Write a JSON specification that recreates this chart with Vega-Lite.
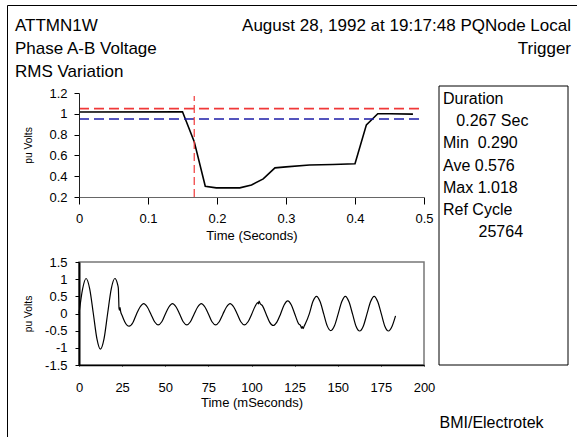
{
  "$schema": "https://vega.github.io/schema/vega-lite/v6.json",
  "width": 570,
  "height": 432,
  "autosize": {"type": "none"},
  "padding": {"left": 7, "top": 5, "right": 0, "bottom": 0},
  "background": "white",
  "config": {
    "font": "Liberation Sans, Arial, sans-serif",
    "view": {"stroke": null},
    "axis": {
      "grid": false,
      "labelFont": "Liberation Sans, Arial, sans-serif",
      "labelFontSize": 13,
      "labelColor": "#000",
      "titleFont": "Liberation Sans, Arial, sans-serif",
      "titleFontSize": 13,
      "titleFontWeight": "normal",
      "titleColor": "#000",
      "tickColor": "#000",
      "domainColor": "#000",
      "labelFlush": false,
      "labelOverlap": false
    },
    "text": {"font": "Liberation Sans, Arial, sans-serif", "color": "#000"}
  },
  "resolve": {
    "scale": {"x": "independent", "y": "independent", "color": "independent"},
    "axis": {"x": "independent", "y": "independent"}
  },
  "layer": [
    {
      "data": {"values": [{"panel": "page"}]},
      "mark": {"type": "point", "opacity": 0},
      "encoding": {
        "x": {"datum": 0, "type": "quantitative", "scale": {"domain": [0, 1], "nice": false, "zero": false},
              "axis": {"orient": "top", "labels": false, "ticks": false, "title": null, "domainColor": "#000", "domainWidth": 1}},
        "y": {"datum": 1, "type": "quantitative", "scale": {"domain": [0, 1], "nice": false, "zero": false},
              "axis": {"orient": "left", "labels": false, "ticks": false, "title": null, "domainColor": "#000", "domainWidth": 1}}
      }
    },
    {
      "layer": [
        {
          "data": {"values": [
            {"t": 0.0, "v": 1.017}, {"t": 0.15, "v": 1.019}, {"t": 0.167, "v": 0.732},
            {"t": 0.183, "v": 0.303}, {"t": 0.199, "v": 0.288}, {"t": 0.233, "v": 0.288},
            {"t": 0.25, "v": 0.316}, {"t": 0.267, "v": 0.374}, {"t": 0.284, "v": 0.48},
            {"t": 0.3, "v": 0.49}, {"t": 0.334, "v": 0.508}, {"t": 0.368, "v": 0.513},
            {"t": 0.4, "v": 0.52}, {"t": 0.4165, "v": 0.894}, {"t": 0.433, "v": 1.0},
            {"t": 0.45, "v": 1.0}, {"t": 0.484, "v": 0.997}
          ]},
          "mark": {"type": "line", "color": "#000", "strokeWidth": 1.6},
          "encoding": {
            "x": {
              "field": "t", "type": "quantitative", "title": "Time (Seconds)",
              "scale": {"domain": [0, 0.5], "range": [72, 417], "nice": false, "zero": false},
              "axis": {
                "orient": "bottom", "offset": -240, "values": [0, 0.1, 0.2, 0.3, 0.4, 0.5],
                "format": "~g", "tickSize": 7, "labelPadding": 8.5, "titleY": 32,
                "domainColor": "#666", "zindex": 1,
                "encoding": {"ticks": {"update": {"y": {"value": -4}}}}
              }
            },
            "y": {
              "field": "v", "type": "quantitative", "title": "pu Volts",
              "scale": {"domain": [0.2, 1.2], "range": [192, 88], "nice": false, "zero": false},
              "axis": {
                "orient": "left", "offset": -72, "values": [0.2, 0.4, 0.6, 0.8, 1, 1.2],
                "format": "~g", "tickSize": 5, "labelPadding": 7, "titleFontSize": 10.3,
                "titleX": -46, "domainColor": "#222", "zindex": 1,
                "encoding": {"ticks": {"update": {"x": {"value": 5}}}}
              }
            }
          }
        },
        {
          "data": {"values": [
            {"limit": "upper", "v": 1.05, "t0": 0, "t1": 0.5},
            {"limit": "lower", "v": 0.95, "t0": 0, "t1": 0.5}
          ]},
          "mark": {"type": "rule", "strokeDash": [10, 5], "strokeWidth": 1.6},
          "encoding": {
            "x": {"field": "t0", "type": "quantitative", "title": "Time (Seconds)"},
            "x2": {"field": "t1"},
            "y": {"field": "v", "type": "quantitative", "title": "pu Volts"},
            "color": {"field": "limit", "type": "nominal", "scale": {"domain": ["upper", "lower"], "range": ["#f03838", "#1c1ca8"]}, "legend": null}
          }
        },
        {
          "data": {"values": [{"t": 0.167, "v0": 0.2, "v1": 1.17}]},
          "mark": {"type": "rule", "strokeDash": [8, 4], "strokeWidth": 1.2, "color": "#f03838"},
          "encoding": {
            "x": {"field": "t", "type": "quantitative", "title": "Time (Seconds)"},
            "y": {"field": "v0", "type": "quantitative", "title": "pu Volts"},
            "y2": {"field": "v1"}
          }
        }
      ]
    },
    {
      "layer": [
        {
          "data": {"values": [{"panel": "waveform"}]},
          "mark": {"type": "rect", "filled": false, "stroke": "#777", "strokeWidth": 1.5},
          "encoding": {
            "x": {"datum": 0, "type": "quantitative", "title": "Time (mSeconds)"},
            "x2": {"datum": 200},
            "y": {"datum": -1.5, "type": "quantitative", "title": "pu Volts"},
            "y2": {"datum": 1.5}
          }
        },
        {
          "data": {"values": [
            {"t": 0, "v": 0.0}, {"t": 2.1, "v": 0.72}, {"t": 4.1, "v": 1.02}, {"t": 6.2, "v": 0.72},
            {"t": 8.3, "v": 0.0}, {"t": 10.4, "v": -0.74}, {"t": 12.4, "v": -1.04}, {"t": 14.5, "v": -0.74},
            {"t": 16.6, "v": 0.0}, {"t": 18.7, "v": 0.72}, {"t": 20.8, "v": 1.02}, {"t": 22.3, "v": 0.86},
            {"t": 22.8, "v": 0.74}, {"t": 23.0, "v": 0.45}, {"t": 23.2, "v": 0.15}, {"t": 23.5, "v": 0.1},
            {"t": 23.8, "v": 0.17}, {"t": 24.1, "v": 0.07}, {"t": 25.0, "v": -0.06}, {"t": 26.5, "v": -0.24},
            {"t": 27.8, "v": -0.34}, {"t": 29.1, "v": -0.37}, {"t": 31.2, "v": -0.27}, {"t": 33.3, "v": -0.02},
            {"t": 35.4, "v": 0.19}, {"t": 37.5, "v": 0.29}, {"t": 39.6, "v": 0.19}, {"t": 41.7, "v": -0.02},
            {"t": 43.8, "v": -0.24}, {"t": 45.9, "v": -0.33}, {"t": 48.0, "v": -0.24}, {"t": 50.0, "v": -0.02},
            {"t": 52.1, "v": 0.19}, {"t": 54.2, "v": 0.29}, {"t": 56.3, "v": 0.19}, {"t": 58.4, "v": -0.02},
            {"t": 60.4, "v": -0.24}, {"t": 62.5, "v": -0.33}, {"t": 64.6, "v": -0.24}, {"t": 66.7, "v": -0.02},
            {"t": 68.8, "v": 0.19}, {"t": 70.9, "v": 0.29}, {"t": 73.0, "v": 0.19}, {"t": 75.1, "v": -0.02},
            {"t": 77.1, "v": -0.24}, {"t": 79.2, "v": -0.33}, {"t": 81.3, "v": -0.24}, {"t": 83.4, "v": -0.02},
            {"t": 85.5, "v": 0.19}, {"t": 87.6, "v": 0.29}, {"t": 89.7, "v": 0.19}, {"t": 91.8, "v": -0.02},
            {"t": 93.8, "v": -0.24}, {"t": 95.9, "v": -0.33}, {"t": 98.0, "v": -0.24}, {"t": 100.1, "v": -0.02},
            {"t": 102.2, "v": 0.22}, {"t": 103.6, "v": 0.32}, {"t": 104.0, "v": 0.28}, {"t": 104.4, "v": 0.36},
            {"t": 104.9, "v": 0.3}, {"t": 106.4, "v": 0.22}, {"t": 108.5, "v": -0.02}, {"t": 110.5, "v": -0.25},
            {"t": 112.6, "v": -0.35}, {"t": 114.7, "v": -0.25}, {"t": 116.8, "v": -0.02}, {"t": 118.9, "v": 0.25},
            {"t": 121.0, "v": 0.37}, {"t": 123.1, "v": 0.25}, {"t": 125.2, "v": -0.03}, {"t": 127.2, "v": -0.29},
            {"t": 128.6, "v": -0.37}, {"t": 129.0, "v": -0.43}, {"t": 129.5, "v": -0.38}, {"t": 129.9, "v": -0.44},
            {"t": 130.5, "v": -0.37}, {"t": 131.4, "v": -0.28}, {"t": 133.5, "v": -0.01}, {"t": 135.6, "v": 0.35},
            {"t": 137.7, "v": 0.5}, {"t": 139.8, "v": 0.34}, {"t": 141.9, "v": -0.02}, {"t": 143.9, "v": -0.36},
            {"t": 146.0, "v": -0.5}, {"t": 148.1, "v": -0.36}, {"t": 150.2, "v": -0.02}, {"t": 152.3, "v": 0.34},
            {"t": 154.4, "v": 0.5}, {"t": 156.5, "v": 0.34}, {"t": 158.6, "v": -0.02}, {"t": 160.6, "v": -0.37},
            {"t": 162.7, "v": -0.51}, {"t": 164.8, "v": -0.37}, {"t": 166.9, "v": -0.02}, {"t": 169.0, "v": 0.34},
            {"t": 171.1, "v": 0.5}, {"t": 173.2, "v": 0.34}, {"t": 175.3, "v": -0.02}, {"t": 177.3, "v": -0.37},
            {"t": 179.4, "v": -0.51}, {"t": 181.5, "v": -0.37}, {"t": 183.5, "v": -0.07}
          ]},
          "mark": {"type": "line", "color": "#000", "strokeWidth": 1.2, "interpolate": "monotone"},
          "encoding": {
            "x": {
              "field": "t", "type": "quantitative", "title": "Time (mSeconds)",
              "scale": {"domain": [0, 200], "range": [72, 417], "nice": false, "zero": false},
              "axis": {
                "orient": "bottom", "offset": -72, "values": [0, 25, 50, 75, 100, 125, 150, 175, 200],
                "tickSize": 1, "labelPadding": 15.7, "titleY": 31.4, "domainWidth": 1.5, "zindex": 1,
                "encoding": {"ticks": {"update": {"y": {"value": -5}}}}
              }
            },
            "y": {
              "field": "v", "type": "quantitative", "title": "pu Volts",
              "scale": {"domain": [-1.5, 1.5], "range": [360, 257], "nice": false, "zero": false},
              "axis": {
                "orient": "left", "offset": -72, "values": [-1.5, -1, -0.5, 0, 0.5, 1, 1.5],
                "labelExpr": "replace(format(datum.value, '~g'), '\u2212', '-')",
                "tickSize": 4, "labelPadding": 8, "titleFontSize": 10.3, "titleX": -46,
                "domainWidth": 2, "zindex": 1
              }
            }
          }
        }
      ]
    },
    {
      "data": {"values": [{"panel": "statistics"}]},
      "mark": {"type": "rect", "fill": "white", "stroke": "#000", "strokeWidth": 1},
      "encoding": {
        "x": {
          "datum": 0, "type": "quantitative",
          "scale": {"domain": [0, 1], "range": [432, 561], "nice": false, "zero": false},
          "axis": {
            "orient": "bottom", "offset": -72, "domain": false, "ticks": false, "labels": false,
            "title": "BMI/Electrotek", "titleFontSize": 16, "titleAnchor": "start",
            "titleBaseline": "alphabetic", "titleY": 62
          }
        },
        "x2": {"datum": 1},
        "y": {"datum": 0, "type": "quantitative", "scale": {"domain": [0, 1], "range": [360, 81], "nice": false, "zero": false}, "axis": null},
        "y2": {"datum": 1}
      }
    },
    {
      "data": {"values": [
        {"line": 1, "text": "Duration"},
        {"line": 2, "text": "\u200b\u00a0\u00a0\u00a00.267 Sec"},
        {"line": 3, "text": "Min\u00a0\u00a00.290"},
        {"line": 4, "text": "Ave 0.576"},
        {"line": 5, "text": "Max 1.018"},
        {"line": 6, "text": "Ref Cycle"},
        {"line": 7, "text": "\u200b\u00a0\u00a0\u00a0\u00a0\u00a0\u00a0\u00a0\u00a025764"}
      ]},
      "mark": {"type": "text", "align": "left", "baseline": "alphabetic", "fontSize": 16, "dx": 4},
      "encoding": {
        "x": {"datum": 0, "type": "quantitative", "scale": {"domain": [0, 1], "range": [432, 561], "nice": false, "zero": false}, "axis": null},
        "y": {"field": "line", "type": "quantitative", "scale": {"domain": [1, 7], "range": [99, 232.2], "nice": false, "zero": false}, "axis": null},
        "text": {"field": "text"}
      }
    },
    {
      "data": {"values": [
        {"side": "left", "line": 1, "text": "ATTMN1W"},
        {"side": "left", "line": 2, "text": "Phase A-B Voltage"},
        {"side": "left", "line": 3, "text": "RMS Variation"},
        {"side": "right", "line": 1, "text": "August 28, 1992 at 19:17:48 PQNode Local"},
        {"side": "right", "line": 2, "text": "Trigger"}
      ]},
      "encoding": {
        "x": {"field": "side", "type": "nominal", "scale": {"type": "point", "domain": ["left", "right"], "range": [8, 564], "padding": 0}, "axis": null},
        "y": {"field": "line", "type": "quantitative", "scale": {"domain": [1, 3], "range": [26, 72], "nice": false, "zero": false}, "axis": null},
        "text": {"field": "text"}
      },
      "layer": [
        {
          "transform": [{"filter": "datum.side === 'left'"}],
          "mark": {"type": "text", "align": "left", "baseline": "alphabetic", "fontSize": 17}
        },
        {
          "transform": [{"filter": "datum.side === 'right'"}],
          "mark": {"type": "text", "align": "right", "baseline": "alphabetic", "fontSize": 17}
        }
      ]
    }
  ]
}
